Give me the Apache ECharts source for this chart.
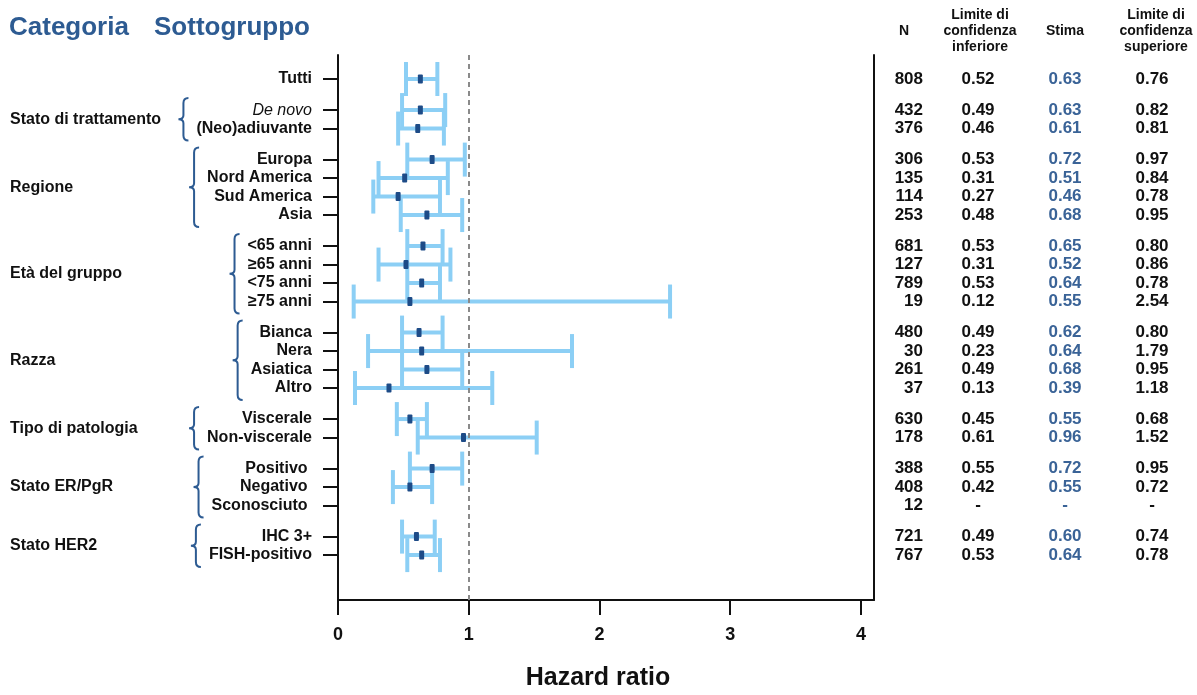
<!DOCTYPE html>
<html>
<head>
<meta charset="utf-8">
<title>Hazard ratio per sottogruppo</title>
<script src="https://cdn.jsdelivr.net/npm/echarts@6/dist/echarts.min.js"></script>
<style>
  html, body { margin: 0; padding: 0; background: #fff; }
  #main { width: 1197px; height: 695px; }
</style>
</head>
<body>
<div id="main"></div>
<script>
// ---- data ----
var groupNames = ["", "Stato di trattamento", "Regione", "Età del gruppo", "Razza",
  "Tipo di patologia", "Stato ER/PgR", "Stato HER2"];
var groupSizes = [1, 2, 4, 4, 4, 2, 3, 2];
var subgroups = ["Tutti", "De novo", "(Neo)adiuvante",
  "Europa", "Nord America", "Sud America", "Asia",
  "<65 anni", "≥65 anni", "<75 anni", "≥75 anni",
  "Bianca", "Nera", "Asiatica", "Altro",
  "Viscerale", "Non-viscerale",
  "Positivo ", "Negativo ", "Sconosciuto ",
  "IHC 3+", "FISH-positivo"];
var nPatients = [808, 432, 376, 306, 135, 114, 253, 681, 127, 789, 19,
  480, 30, 261, 37, 630, 178, 388, 408, 12, 721, 767];
var lowerCI = [0.52, 0.49, 0.46, 0.53, 0.31, 0.27, 0.48, 0.53, 0.31, 0.53, 0.12,
  0.49, 0.23, 0.49, 0.13, 0.45, 0.61, 0.55, 0.42, null, 0.49, 0.53];
var estimate = [0.63, 0.63, 0.61, 0.72, 0.51, 0.46, 0.68, 0.65, 0.52, 0.64, 0.55,
  0.62, 0.64, 0.68, 0.39, 0.55, 0.96, 0.72, 0.55, null, 0.60, 0.64];
var upperCI = [0.76, 0.82, 0.81, 0.97, 0.84, 0.78, 0.95, 0.80, 0.86, 0.78, 2.54,
  0.80, 1.79, 0.95, 1.18, 0.68, 1.52, 0.95, 0.72, null, 0.74, 0.78];
var xTicks = [0, 1, 2, 3, 4];

// ---- layout helpers ----
var FONT = '"Liberation Sans", Arial, sans-serif';
var TITLE_BLUE = "#2d5b92";
var ROW_GAP = 1.68; // spacing between groups, in row units

var positions = [];
(function () {
  var p = 0;
  groupSizes.forEach(function (size) {
    for (var i = 0; i < size; i++) { positions.push(p); p += 1; }
    p += ROW_GAP - 1;
  });
})();
var yMin = -1.3;
var yMax = positions[positions.length - 1] + 2.43;

function fmt(v) { return v == null ? "-" : v.toFixed(2); }

function labelFor(value) {
  var best = 0;
  for (var i = 1; i < positions.length; i++) {
    if (Math.abs(positions[i] - value) < Math.abs(positions[best] - value)) best = i;
  }
  var s = subgroups[best];
  return s === "De novo" ? "{it|" + s + "}" : s;
}

var measureCtx = document.createElement("canvas").getContext("2d");
measureCtx.font = "bold 16px " + FONT;

var barData = [], tableData = [], groupData = [];
subgroups.forEach(function (s, i) {
  if (lowerCI[i] != null) barData.push([positions[i], lowerCI[i], estimate[i], upperCI[i]]);
  tableData.push([positions[i], i]);
});
(function () {
  var start = 0;
  groupSizes.forEach(function (size, g) {
    if (groupNames[g]) groupData.push([positions[start], positions[start + size - 1], g, start]);
    start += size;
  });
})();

var LABEL_RIGHT = 312;

var chart = echarts.init(document.getElementById("main"));
var option = {
  animation: false,
  backgroundColor: "#fff",
  title: [
    { text: "Categoria", left: 9, top: 15, padding: 0,
      textStyle: { color: TITLE_BLUE, fontSize: 26, fontWeight: "bold", fontFamily: FONT } },
    { text: "Sottogruppo", left: 154, top: 15, padding: 0,
      textStyle: { color: TITLE_BLUE, fontSize: 26, fontWeight: "bold", fontFamily: FONT } }
  ],
  graphic: {
    elements: [
      { type: "text", x: 904, y: 31, style: { text: "N", fill: "#111", font: "bold 14px " + FONT,
        textAlign: "center", textVerticalAlign: "middle" } },
      { type: "text", x: 980, y: 31, style: { text: "Limite di\nconfidenza\ninferiore", fill: "#111",
        font: "bold 14px " + FONT, lineHeight: 16, textAlign: "center", textVerticalAlign: "middle" } },
      { type: "text", x: 1065, y: 31, style: { text: "Stima", fill: "#111", font: "bold 14px " + FONT,
        textAlign: "center", textVerticalAlign: "middle" } },
      { type: "text", x: 1156, y: 31, style: { text: "Limite di\nconfidenza\nsuperiore", fill: "#111",
        font: "bold 14px " + FONT, lineHeight: 16, textAlign: "center", textVerticalAlign: "middle" } }
    ]
  },
  grid: { left: 338, right: 323, top: 55, bottom: 95, outerBoundsMode: "none" },
  xAxis: {
    type: "value", min: 0, max: 4.1, interval: 1,
    name: "Hazard ratio", nameLocation: "middle", nameGap: 66,
    nameTextStyle: { color: "#111", fontSize: 25, fontWeight: "bold", fontFamily: FONT, padding: [0, 16, 0, 0] },
    axisLine: { show: true, onZero: false, lineStyle: { color: "#111", width: 2 } },
    axisTick: { show: true, customValues: xTicks, length: 15, lineStyle: { color: "#111", width: 2 } },
    axisLabel: { customValues: xTicks, margin: 26, color: "#111", fontSize: 18, fontWeight: "bold", fontFamily: FONT },
    splitLine: { show: false }
  },
  yAxis: [
    {
      type: "value", inverse: true, min: yMin, max: yMax, position: "left",
      axisLine: { show: true, onZero: false, lineStyle: { color: "#111", width: 2 } },
      axisTick: { show: true, customValues: positions, length: 15, lineStyle: { color: "#111", width: 2 } },
      axisLabel: {
        customValues: positions, margin: 26, color: "#111", fontSize: 16, fontWeight: "bold", fontFamily: FONT,
        formatter: labelFor,
        rich: { it: { fontStyle: "italic", fontWeight: "normal", fontSize: 16, color: "#111", fontFamily: FONT } }
      },
      splitLine: { show: false }
    },
    {
      type: "value", inverse: true, min: yMin, max: yMax, position: "right",
      axisLine: { show: true, onZero: false, lineStyle: { color: "#111", width: 2 } },
      axisTick: { show: false }, axisLabel: { show: false }, splitLine: { show: false }
    }
  ],
  series: [
    {
      type: "custom",
      name: "Intervallo di confidenza",
      data: barData,
      encode: { x: [1, 2, 3], y: 0 },
      renderItem: function (params, api) {
        var y = api.value(0);
        var lo = api.coord([api.value(1), y]);
        var hi = api.coord([api.value(3), y]);
        var half = 17;
        var st = { stroke: "#8ccff5", lineWidth: 4 };
        return {
          type: "group",
          children: [
            { type: "line", shape: { x1: lo[0], y1: lo[1], x2: hi[0], y2: hi[1] }, style: st },
            { type: "line", shape: { x1: lo[0], y1: lo[1] - half, x2: lo[0], y2: lo[1] + half }, style: st },
            { type: "line", shape: { x1: hi[0], y1: hi[1] - half, x2: hi[0], y2: hi[1] + half }, style: st }
          ]
        };
      },
      markLine: {
        silent: true, symbol: "none", label: { show: false },
        lineStyle: { color: "#8a8a8a", type: [5, 4], width: 2 },
        data: [{ xAxis: 1 }]
      }
    },
    {
      type: "custom",
      name: "Stima",
      z: 5,
      data: barData,
      encode: { x: 2, y: 0 },
      renderItem: function (params, api) {
        var p = api.coord([api.value(2), api.value(0)]);
        return { type: "rect", shape: { x: p[0] - 2.5, y: p[1] - 4.5, width: 5, height: 9, r: 1 },
          style: { fill: "#1d4b87" } };
      }
    },
    {
      type: "custom",
      name: "Tabella",
      data: tableData,
      encode: { y: 0 },
      renderItem: function (params, api) {
        var y = api.coord([0, api.value(0)])[1];
        var i = api.value(1);
        var f = "bold 17px " + FONT;
        function t(x, text, align, color) {
          return { type: "text", x: x, y: y,
            style: { text: text, font: f, fill: color, textAlign: align, textVerticalAlign: "middle" } };
        }
        return {
          type: "group",
          children: [
            t(923, String(nPatients[i]), "right", "#111"),
            t(978, fmt(lowerCI[i]), "center", "#111"),
            t(1065, fmt(estimate[i]), "center", "#3a6397"),
            t(1152, fmt(upperCI[i]), "center", "#111")
          ]
        };
      }
    },
    {
      type: "custom",
      name: "Categorie",
      data: groupData,
      encode: { y: [0, 1] },
      renderItem: function (params, api) {
        var y1 = api.coord([0, api.value(0)])[1];
        var y2 = api.coord([0, api.value(1)])[1];
        var g = api.value(2), start = api.value(3);
        var maxW = 0;
        for (var k = 0; k < groupSizes[g]; k++) {
          maxW = Math.max(maxW, measureCtx.measureText(subgroups[start + k]).width);
        }
        var tip = LABEL_RIGHT - maxW - 8;
        var spine = tip - 5, point = spine - 5;
        var top = y1 - 12, bot = y2 + 12, mid = (top + bot) / 2;
        var d = "M" + tip + "," + top +
          " Q" + spine + "," + top + " " + spine + "," + (top + 5) +
          " L" + spine + "," + (mid - 4) +
          " Q" + spine + "," + mid + " " + point + "," + mid +
          " Q" + spine + "," + mid + " " + spine + "," + (mid + 4) +
          " L" + spine + "," + (bot - 5) +
          " Q" + spine + "," + bot + " " + tip + "," + bot;
        return {
          type: "group",
          children: [
            { type: "text", x: 10, y: (y1 + y2) / 2,
              style: { text: groupNames[g], font: "bold 16px " + FONT, fill: "#111",
                textAlign: "left", textVerticalAlign: "middle" } },
            { type: "path", shape: { pathData: d },
              style: { stroke: TITLE_BLUE, lineWidth: 2, fill: null } }
          ]
        };
      }
    }
  ]
};
chart.setOption(option);
</script>
</body>
</html>
